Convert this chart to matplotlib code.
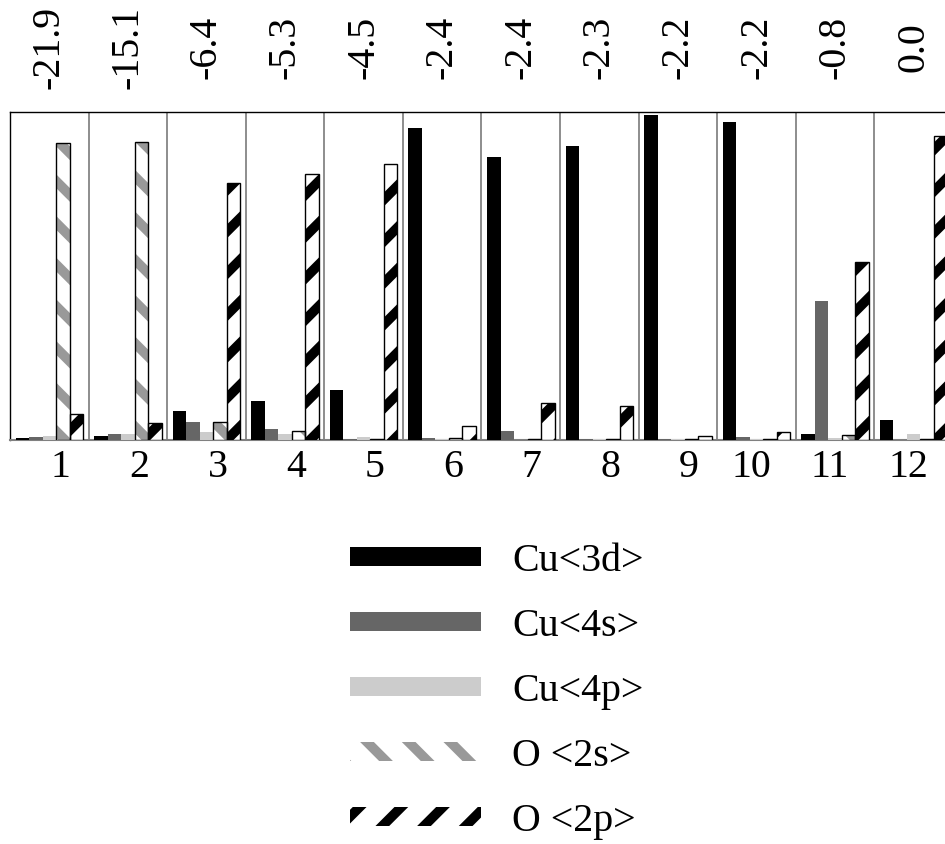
import matplotlib
matplotlib.use('Agg')
import matplotlib.pyplot as plt
import matplotlib.transforms as mtransforms
from matplotlib.patches import Patch
import numpy as np

# ---- data ----
groups = [1, 2, 3, 4, 5, 6, 7, 8, 9, 10, 11, 12]
energies = ['-21.9', '-15.1', '-6.4', '-5.3', '-4.5', '-2.4', '-2.4',
            '-2.3', '-2.2', '-2.2', '-0.8', '0.0']
cu3d = [0.005, 0.012, 0.089, 0.119, 0.152, 0.951, 0.863, 0.896, 0.992, 0.970, 0.018, 0.061]
cu4s = [0.010, 0.019, 0.055, 0.034, 0.002, 0.006, 0.027, 0.002, 0.002, 0.009, 0.424, 0.000]
cu4p = [0.013, 0.019, 0.024, 0.019, 0.009, 0.002, 0.001, 0.002, 0.002, 0.002, 0.007, 0.019]
o2s = [0.905, 0.909, 0.055, 0.026, 0.002, 0.006, 0.003, 0.003, 0.002, 0.002, 0.015, 0.002]
o2p = [0.078, 0.051, 0.785, 0.811, 0.840, 0.043, 0.112, 0.104, 0.012, 0.023, 0.542, 0.927]
series_labels = ['Cu<3d>', 'Cu<4s>', 'Cu<4p>', 'O <2s>', 'O <2p>']

DPI = 250
FS = 11.5
plt.rcParams['font.family'] = ['Liberation Serif', 'DejaVu Serif']
plt.rcParams['font.size'] = FS
plt.rcParams['hatch.linewidth'] = 2.8

fig = plt.figure(figsize=(945 / DPI, 844 / DPI), dpi=DPI)
ax = fig.add_axes([10 / 945, 1 - 440 / 844, 943 / 945, 328 / 844])

x = np.array(groups, dtype=float)
w = 0.172
offs = [-2 * w, -w, 0, w, 2 * w]

ax.bar(x + offs[0], cu3d, w, color='black', linewidth=0, zorder=3)
ax.bar(x + offs[1], cu4s, w, color='#666666', linewidth=0, zorder=3)
ax.bar(x + offs[2], cu4p, w, color='#cccccc', linewidth=0, zorder=3)
ax.bar(x + offs[3], o2s, w, color='white', edgecolor='#999999', hatch='\\\\',
       linewidth=0, zorder=3)
ax.bar(x + offs[3], o2s, w, fill=False, edgecolor='black', linewidth=0.4, zorder=4)
ax.bar(x + offs[4], o2p, w, color='white', edgecolor='black', hatch='//',
       linewidth=0.4, zorder=3)

for b in np.arange(1.5, 12.5, 1.0):
    ax.axvline(b, color='#808080', lw=0.5, zorder=1)

ax.set_xlim(0.5, 12.5)
ax.set_ylim(0, 1)
ax.set_yticks([])
ax.set_xticks(groups)
ax.set_xticklabels([str(g) for g in groups])
ax.tick_params(axis='x', length=0, pad=2.5)
for lab, g in zip(ax.get_xticklabels(), groups):
    dx = 11 if g < 10 else -5
    lab.set_transform(lab.get_transform() +
                      mtransforms.ScaledTranslation(dx / DPI, 0, fig.dpi_scale_trans))

for side in ['left', 'top', 'right']:
    ax.spines[side].set_color('black')
    ax.spines[side].set_linewidth(0.4)
ax.spines['bottom'].set_color('#808080')
ax.spines['bottom'].set_linewidth(0.6)

trans = mtransforms.blended_transform_factory(ax.transData, ax.transAxes)
for g, e in zip(groups, energies):
    ax.text(g, 1.198, e, transform=trans, rotation=90, ha='center', va='center',
            clip_on=False)

handles = [
    Patch(facecolor='black', edgecolor='none', linewidth=0),
    Patch(facecolor='#666666', edgecolor='none', linewidth=0),
    Patch(facecolor='#cccccc', edgecolor='none', linewidth=0),
    Patch(facecolor='none', edgecolor='#999999', hatch='\\\\', linewidth=0),
    Patch(facecolor='none', edgecolor='black', hatch='//', linewidth=0),
]
fig.legend(handles, series_labels, loc='upper left',
           bbox_to_anchor=(350 / 945, 1 - 543 / 844),
           frameon=False, borderpad=0, borderaxespad=0,
           handlelength=3.28, handleheight=0.35, handletextpad=0.78,
           labelspacing=0.7)

fig.savefig('out.png', dpi=DPI)
